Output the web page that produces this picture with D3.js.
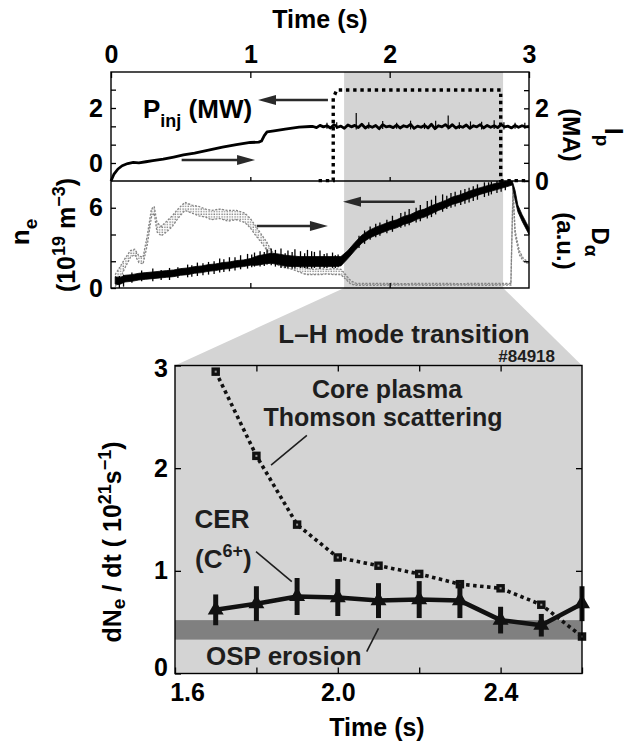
<!DOCTYPE html>
<html><head><meta charset="utf-8">
<script src="https://cdn.jsdelivr.net/npm/d3@7"></script>
<style>
body{margin:0;background:#fff;}
svg text{font-family:"Liberation Sans",Arial,Helvetica,sans-serif;font-weight:bold;}
</style></head><body>
<svg id="c" width="628" height="748"></svg>
<script>
// ---------------- DATA ----------------
// upper figure: time axis
const topTimeTicks = [0, 1, 2, 3];
const ipTickValues = [0, 0.5, 1, 1.5, 2, 2.5];
const ipTickLabels = ["0", "", "", "", "2", ""];
const pinjTickValues = [0, 0.667, 1.333, 2, 2.667];
const pinjTickLabels = ["0", "", "", "2", ""];
const neTickValues = [0, 2, 4, 6];
const neTickLabels = ["0", "", "", "6"];

// L-H transition window (s)
const lhWindow = [1.673, 2.814];

// Plasma current Ip (MA): ramp-up part
const ipRampTime = [0, 0.02, 0.05, 0.08, 0.12, 0.16, 0.2, 0.25, 0.3, 0.375, 0.45, 0.52, 0.6, 0.7, 0.8, 0.9, 1.0, 1.06, 1.08, 1.1, 1.12, 1.17, 1.25, 1.35, 1.43];
const ipRampValue = [0, 0.18, 0.33, 0.42, 0.48, 0.51, 0.5, 0.53, 0.56, 0.6, 0.66, 0.72, 0.77, 0.85, 0.93, 1.0, 1.06, 1.07, 1.1, 1.25, 1.35, 1.38, 1.43, 1.48, 1.5];
// Ip flat-top (noisy), sampled every 0.025 s from 1.45 s
const ipFlatStart = 1.45, ipFlatStep = 0.025;
const ipFlatValue = [1.50,1.47,1.53,1.49,1.52,1.46,1.55,1.48,1.51,1.45,1.54,1.49,1.53,1.47,1.56,1.46,1.52,1.48,1.53,1.44,1.55,1.49,1.51,1.47,1.54,1.46,1.52,1.49,1.56,1.45,1.51,1.48,1.53,1.46,1.56,1.44,1.52,1.49,1.55,1.47,1.55,1.46,1.51,1.48,1.54,1.45,1.52,1.49,1.55,1.46,1.53,1.48,1.52,1.47,1.55,1.49,1.51,1.46,1.53,1.48,1.52,1.49,1.5];
// Ip noise spikes (time, min, max)
const ipSpikeTime = [1.55, 1.62, 1.76, 1.85, 1.95, 2.05, 2.15, 2.25, 2.33, 2.42, 2.5, 2.58, 2.66, 2.75, 2.82, 2.9, 2.97];
const ipSpikeLow  = [1.44, 1.43, 1.42, 1.44, 1.43, 1.44, 1.42, 1.43, 1.44, 1.42, 1.43, 1.44, 1.42, 1.43, 1.42, 1.44, 1.44];
const ipSpikeHigh = [1.6, 1.62, 1.87, 1.62, 1.65, 1.6, 1.66, 1.6, 1.66, 1.8, 1.62, 1.64, 1.63, 1.67, 1.62, 1.6, 1.6];

// Injected power waveform (MW)
const pinjTime = [1.49, 1.595, 1.595, 1.62, 2.797, 2.797, 3.0];
const pinjValue = [-0.64, -0.64, 2.36, 2.655, 2.655, -0.64, -0.64];

// Electron density ne (1e19 m^-3): noisy band (lower / upper envelope)
const neTime = [0.03,0.05,0.07,0.1,0.15,0.2,0.25,0.3,0.35,0.4,0.45,0.5,0.55,0.6,0.65,0.7,0.75,0.8,0.85,0.9,0.95,1.0,1.05,1.1,1.15,1.2,1.25,1.3,1.35,1.4,1.45,1.5,1.55,1.6,1.65,1.7,1.75,1.8,1.85,1.9,1.95,2.0,2.05,2.1,2.15,2.2,2.25,2.3,2.35,2.4,2.45,2.5,2.55,2.6,2.65,2.7,2.75,2.8,2.85,2.88,2.9,2.92,2.95,2.98,3.0];
const neLow = [0.3,0.25,0.3,0.45,0.5,0.6,0.65,0.7,0.75,0.8,0.85,0.95,1.0,1.1,1.15,1.25,1.3,1.4,1.45,1.55,1.6,1.7,1.7,1.8,1.85,1.75,1.65,1.6,1.6,1.6,1.6,1.6,1.6,1.6,1.65,2.2,2.8,3.35,3.7,3.95,4.15,4.35,4.5,4.75,4.9,5.15,5.3,5.55,5.8,6.0,6.25,6.4,6.6,6.8,7.0,7.15,7.3,7.45,7.6,7.7,6.6,5.7,5.0,4.4,4.0];
const neHigh = [0.85,0.8,0.8,0.95,1.0,1.1,1.15,1.2,1.25,1.3,1.35,1.45,1.5,1.6,1.65,1.75,1.8,1.9,1.95,2.05,2.1,2.2,2.4,2.5,2.6,2.55,2.45,2.4,2.35,2.35,2.35,2.35,2.35,2.35,2.35,2.8,3.4,3.95,4.3,4.55,4.75,4.95,5.1,5.35,5.5,5.75,5.9,6.15,6.35,6.55,6.8,6.95,7.15,7.35,7.5,7.65,7.8,7.9,8.0,8.0,7.3,6.2,5.5,4.9,4.5];
// ne noise spikes (time, min, max)
const neSpikeTime = [0.06,0.09,0.15,0.22,0.3,0.36,0.42,0.48,0.55,0.58,0.62,0.66,0.7,0.74,0.78,0.81,0.85,0.89,0.93,0.98,1.01,1.03,1.07,1.1,1.12,1.15,1.18,1.22,1.25,1.27,1.3,1.32,1.36,1.39,1.41,1.44,1.46,1.5,1.53,1.55,1.59,1.61,1.63,1.78,1.82,1.86,1.9,1.93,1.98,2.02,2.08,2.11,2.14,2.19,2.22,2.27,2.3,2.33,2.38,2.41,2.44,2.47,2.51,2.54,2.57,2.6,2.63,2.68,2.71,2.73,2.77,2.8,2.83];
const neSpikeLow  = [0.0,0.1,0.4,0.5,0.5,0.6,0.6,0.75,0.8,0.85,0.9,0.95,1.0,1.05,1.15,1.2,1.25,1.3,1.4,1.45,1.55,1.6,1.6,1.65,1.75,1.7,1.6,1.5,1.5,1.5,1.45,1.45,1.5,1.5,1.45,1.45,1.5,1.45,1.5,1.5,1.5,1.5,1.55,3.0,3.3,3.6,3.8,3.9,4.1,4.2,4.5,4.6,4.7,4.9,5.0,5.2,5.3,5.5,5.7,5.9,6.0,6.1,6.2,6.3,6.4,6.5,6.6,6.8,6.9,7.0,7.1,7.2,7.3];
const neSpikeHigh = [0.9,1.0,1.15,1.3,1.45,1.35,1.5,1.55,1.75,1.7,1.9,1.85,1.95,2.0,2.2,2.15,2.3,2.3,2.45,2.55,2.5,2.65,2.75,2.7,2.9,2.95,2.85,2.95,2.6,2.8,2.7,2.9,2.75,2.6,2.85,2.75,2.7,2.8,2.55,2.6,2.65,2.45,2.5,3.9,4.3,4.6,4.8,4.9,5.1,5.4,5.6,5.7,5.9,6.0,6.2,6.5,6.6,6.9,7.0,6.9,7.1,7.2,7.3,7.4,7.5,7.6,7.75,7.9,7.9,7.95,8.0,8.0,8.0];

// D-alpha (a.u., drawn on the ne scale): scattered band (lower / upper)
const daTime = [0.03,0.06,0.1,0.14,0.17,0.2,0.23,0.26,0.29,0.31,0.33,0.36,0.4,0.44,0.48,0.53,0.58,0.63,0.68,0.72,0.78,0.84,0.9,0.96,1.0,1.04,1.08,1.12,1.15,1.2,1.25,1.3,1.35,1.4,1.45,1.5,1.55,1.6,1.65,1.68,1.72,1.76,1.9,2.1,2.3,2.5,2.7,2.87,2.885,2.9,2.93,2.96,3.0];
const daLow = [0.1,0.6,1.5,2.3,2.5,1.9,1.8,3.2,5.3,5.6,4.2,3.9,4.2,4.6,5.2,5.8,5.6,5.4,5.3,5.1,5.2,5.0,5.1,4.9,4.5,3.9,3.4,2.8,2.2,1.7,1.5,1.4,1.2,1.0,1.0,1.0,1.05,1.0,1.0,0.7,0.3,0.2,0.2,0.22,0.2,0.22,0.2,0.22,7.3,4.0,2.5,2.0,1.8];
const daHigh = [1.0,1.5,2.2,2.8,2.9,2.4,2.3,3.9,5.9,6.1,4.9,4.6,5.0,5.4,5.9,6.4,6.2,6.1,5.9,5.8,5.9,5.8,5.8,5.6,5.2,4.6,4.0,3.4,2.8,2.2,1.9,1.8,1.6,1.5,1.4,1.45,1.4,1.45,1.4,1.05,0.55,0.35,0.35,0.33,0.35,0.33,0.35,0.35,7.5,4.3,2.8,2.2,1.9];

// lower figure: dNe/dt (1e21 s^-1)
const bTime = [1.7, 1.8, 1.9, 2.0, 2.1, 2.2, 2.3, 2.4, 2.5, 2.6];
const thomson = [2.94, 2.12, 1.45, 1.13, 1.05, 0.97, 0.87, 0.83, 0.67, 0.36];
const cer = [0.62, 0.68, 0.75, 0.74, 0.71, 0.72, 0.71, 0.52, 0.47, 0.68];
const cerErr = [0.15, 0.17, 0.18, 0.18, 0.17, 0.18, 0.17, 0.13, 0.11, 0.17];
const ospErosion = [0.33, 0.52];
const bXTickValues = [1.6, 1.8, 2.0, 2.2, 2.4, 2.6];
const bXTickLabels = ["1.6", "", "2.0", "", "2.4", ""];
const bYTickValues = [0, 1, 2, 3];
const bYTickLabels = ["0", "1", "2", "3"];

// ---------------- SCALES ----------------
const svg = d3.select("#c");
const tX = d3.scaleLinear().domain([0, 3]).range([111, 529]);
const ipY = d3.scaleLinear().domain([0, 3]).range([181, 72]);
const pinjY = d3.scaleLinear().domain([0, 2]).range([163, 108]);
const neY = d3.scaleLinear().domain([0, 8]).range([288, 181]);
const bX = d3.scaleLinear().domain([1.6, 2.6]).range([175, 582]);
const bY = d3.scaleLinear().domain([0, 3]).range([673.5, 365.5]);

const FS = "25px";
function styleAxis(g, fs) {
  g.select(".domain").remove();
  g.selectAll(".tick line").attr("stroke", "#000").attr("stroke-width", 1.3);
  g.selectAll(".tick text").attr("fill", "#000").style("font-size", fs || FS).style("font-weight", "bold");
}

// dotted pattern for D-alpha scatter
const defs = svg.append("defs");
const pat = defs.append("pattern").attr("id", "dots").attr("patternUnits", "userSpaceOnUse").attr("width", 2.6).attr("height", 2.6);
pat.append("rect").attr("x", 0.4).attr("y", 0.4).attr("width", 1.3).attr("height", 1.3).attr("fill", "#7c7c7c");

// ---------------- UPPER FIGURE ----------------
// shaded L-H window + funnel
svg.append("rect").attr("x", tX(lhWindow[0])).attr("y", ipY(3))
  .attr("width", tX(lhWindow[1]) - tX(lhWindow[0])).attr("height", neY(0) - ipY(3)).attr("fill", "#d4d4d4");
svg.append("path").attr("fill", "#d4d4d4")
  .attr("d", d3.line()([[tX(lhWindow[0]), neY(0)], [tX(lhWindow[1]), neY(0)], [bX(2.6), bY(3)], [bX(1.6), bY(3)]]) + "Z");

// D-alpha band
svg.append("path")
  .attr("d", d3.area().x((d, i) => tX(daTime[i])).y0((d, i) => neY(daLow[i])).y1(d => neY(d))(daHigh))
  .attr("fill", "url(#dots)");
const daLine = d3.line().x((d, i) => tX(daTime[i])).y(d => neY(d));
[daLow, daHigh].forEach(arr => {
  svg.append("path").attr("d", daLine(arr)).attr("fill", "none").attr("stroke", "#858585")
    .attr("stroke-width", 1.3).attr("stroke-dasharray", "2,1.5");
});

// ne band + spikes
svg.append("path")
  .attr("d", d3.area().x(d => tX(d)).y0((d, i) => neY(neLow[i])).y1((d, i) => neY(neHigh[i]))(neTime))
  .attr("fill", "#000").attr("stroke", "#000").attr("stroke-width", 0.8);
svg.selectAll(".nesp").data(neSpikeTime).enter().append("line")
  .attr("x1", d => tX(d)).attr("x2", d => tX(d))
  .attr("y1", (d, i) => neY(neSpikeLow[i])).attr("y2", (d, i) => neY(neSpikeHigh[i]))
  .attr("stroke", "#000").attr("stroke-width", 1.3);

// Ip trace + spikes
const ipPts = ipRampTime.map((t, i) => [t, ipRampValue[i]])
  .concat(ipFlatValue.map((v, i) => [ipFlatStart + i * ipFlatStep, v]));
svg.append("path").attr("d", d3.line().x(d => tX(d[0])).y(d => ipY(d[1]))(ipPts))
  .attr("fill", "none").attr("stroke", "#000").attr("stroke-width", 2.8).attr("stroke-linejoin", "round");
svg.selectAll(".ipsp").data(ipSpikeTime).enter().append("line")
  .attr("x1", d => tX(d)).attr("x2", d => tX(d))
  .attr("y1", (d, i) => ipY(ipSpikeLow[i])).attr("y2", (d, i) => ipY(ipSpikeHigh[i]))
  .attr("stroke", "#000").attr("stroke-width", 1.2);

// Pinj dotted waveform
svg.append("path").attr("d", d3.line().x((d, i) => tX(pinjTime[i])).y(d => pinjY(d))(pinjValue))
  .attr("fill", "none").attr("stroke", "#000").attr("stroke-width", 3.4).attr("stroke-dasharray", "3.4,3.8");

// frames
svg.append("rect").attr("x", tX(0)).attr("y", ipY(3)).attr("width", tX(3) - tX(0)).attr("height", neY(0) - ipY(3))
  .attr("fill", "none").attr("stroke", "#000").attr("stroke-width", 1.4);
svg.append("line").attr("x1", tX(0)).attr("x2", tX(3)).attr("y1", ipY(0)).attr("y2", ipY(0))
  .attr("stroke", "#000").attr("stroke-width", 1.6);

// axes
svg.append("g").attr("transform", `translate(0,${ipY(3)})`)
  .call(d3.axisTop(tX).tickValues(topTimeTicks).tickFormat(d3.format("d")).tickSize(-6).tickPadding(9)).call(g => styleAxis(g));
svg.append("g").attr("transform", `translate(${tX(0)},0)`)
  .call(d3.axisLeft(pinjY).tickValues(pinjTickValues).tickFormat((d, i) => pinjTickLabels[i]).tickSize(-5).tickPadding(8)).call(g => styleAxis(g));
svg.append("g").attr("transform", `translate(${tX(3)},0)`)
  .call(d3.axisRight(ipY).tickValues(ipTickValues).tickFormat((d, i) => ipTickLabels[i]).tickSize(-5).tickPadding(6)).call(g => styleAxis(g));
svg.append("g").attr("transform", `translate(0,${ipY(0)})`)
  .call(d3.axisTop(tX).tickValues([1, 2]).tickFormat("").tickSize(4)).call(g => styleAxis(g));
svg.append("g").attr("transform", `translate(0,${neY(0)})`)
  .call(d3.axisBottom(tX).tickValues([1, 2]).tickFormat("").tickSize(-5)).call(g => styleAxis(g));
svg.append("g").attr("transform", `translate(${tX(0)},0)`)
  .call(d3.axisLeft(neY).tickValues(neTickValues).tickFormat((d, i) => neTickLabels[i]).tickSize(-5).tickPadding(8)).call(g => styleAxis(g));
svg.append("g").attr("transform", `translate(${tX(3)},0)`)
  .call(d3.axisRight(neY).tickValues([2, 4, 6]).tickFormat("").tickSize(-5)).call(g => styleAxis(g));

// arrows (data coordinates)
function arrow(x1, y1, x2, y2) {
  const dir = Math.sign(x2 - x1);
  svg.append("line").attr("x1", x1).attr("y1", y1).attr("x2", x2 - dir * 10).attr("y2", y2)
    .attr("stroke", "#2a2a2a").attr("stroke-width", 2.4);
  svg.append("path").attr("d", `M${x2},${y2} L${x2 - dir * 18},${y2 - 5} L${x2 - dir * 18},${y2 + 5} Z`).attr("fill", "#2a2a2a");
}
arrow(tX(1.557), ipY(2.23), tX(1.055), ipY(2.23));
arrow(tX(0.507), ipY(0.578), tX(1.034), ipY(0.578));
arrow(tX(1.046), neY(4.64), tX(1.557), neY(4.64));
arrow(tX(2.18), neY(6.45), tX(1.665), neY(6.45));

// texts upper
svg.append("text").attr("x", 320).attr("y", 28).attr("text-anchor", "middle").style("font-size", "25px").text("Time (s)");
const pinjLab = svg.append("text").attr("x", 143).attr("y", 118).style("font-size", "26px");
pinjLab.append("tspan").text("P");
pinjLab.append("tspan").attr("dy", 9).style("font-size", "18px").text("inj");
pinjLab.append("tspan").attr("dy", -9).text(" (MW)");

// rotated labels
function rot(x, y, a) { return svg.append("g").attr("transform", `translate(${x},${y}) rotate(${a})`); }
let t1 = rot(29, 232, -90).append("text").attr("text-anchor", "middle").style("font-size", "26px");
t1.append("tspan").text("n");
t1.append("tspan").attr("dy", 8).style("font-size", "19px").text("e");
let t2 = rot(75, 235, -90).append("text").attr("text-anchor", "middle").style("font-size", "25px");
t2.append("tspan").text("(10");
t2.append("tspan").attr("dy", -10).style("font-size", "18px").text("19");
t2.append("tspan").attr("dy", 10).text(" m");
t2.append("tspan").attr("dy", -10).style("font-size", "18px").text("−3");
t2.append("tspan").attr("dy", 10).text(")");

let t3 = rot(605, 137, 90).append("text").attr("text-anchor", "middle").style("font-size", "25px");
t3.append("tspan").text("I");
t3.append("tspan").attr("dy", 9).style("font-size", "19px").text("p");
rot(563, 135, 90).append("text").attr("text-anchor", "middle").style("font-size", "24px").text("(MA)");
let t4 = rot(592, 242, 90).append("text").attr("text-anchor", "middle").style("font-size", "24px");
t4.append("tspan").text("D");
t4.append("tspan").attr("dy", 7).style("font-size", "19px").text("α");
rot(557, 241, 90).append("text").attr("text-anchor", "middle").style("font-size", "24px").text("(a.u.)");

// ---------------- LOWER FIGURE ----------------
svg.append("rect").attr("x", bX(1.6)).attr("y", bY(3)).attr("width", bX(2.6) - bX(1.6)).attr("height", bY(0) - bY(3)).attr("fill", "#d4d4d4");
svg.append("rect").attr("x", bX(1.6)).attr("y", bY(ospErosion[1])).attr("width", bX(2.6) - bX(1.6))
  .attr("height", bY(ospErosion[0]) - bY(ospErosion[1])).attr("fill", "#808080");

// Thomson
svg.append("path").attr("d", d3.line().x((d, i) => bX(bTime[i])).y(d => bY(d))(thomson))
  .attr("fill", "none").attr("stroke", "#111").attr("stroke-width", 3.6).attr("stroke-dasharray", "3.5,3.5");
svg.selectAll(".sq").data(thomson).enter().append("path")
  .attr("transform", (d, i) => `translate(${bX(bTime[i])},${bY(d)})`)
  .attr("d", d3.symbol(d3.symbolSquare, 72)).attr("fill", "#111");
svg.selectAll(".sqc").data(thomson).enter().append("rect")
  .attr("x", (d, i) => bX(bTime[i]) - 1).attr("y", d => bY(d) - 1).attr("width", 2).attr("height", 2).attr("fill", "#999");

// CER
svg.append("path").attr("d", d3.line().x((d, i) => bX(bTime[i])).y(d => bY(d))(cer))
  .attr("fill", "none").attr("stroke", "#111").attr("stroke-width", 4.5).attr("stroke-linejoin", "round");
svg.selectAll(".eb").data(cer).enter().append("line")
  .attr("x1", (d, i) => bX(bTime[i])).attr("x2", (d, i) => bX(bTime[i]))
  .attr("y1", (d, i) => bY(d - cerErr[i])).attr("y2", (d, i) => bY(d + cerErr[i]))
  .attr("stroke", "#111").attr("stroke-width", 5);
svg.selectAll(".tri").data(cer).enter().append("path")
  .attr("transform", (d, i) => `translate(${bX(bTime[i])},${bY(d)})`)
  .attr("d", d3.symbol(d3.symbolTriangle, 110)).attr("fill", "#111");

// frame
svg.append("rect").attr("x", bX(1.6)).attr("y", bY(3)).attr("width", bX(2.6) - bX(1.6)).attr("height", bY(0) - bY(3))
  .attr("fill", "none").attr("stroke", "#000").attr("stroke-width", 1.4);

// axes
svg.append("g").attr("transform", `translate(0,${bY(0)})`)
  .call(d3.axisBottom(bX).tickValues(bXTickValues).tickFormat((d, i) => bXTickLabels[i]).tickSize(-6).tickPadding(10))
  .call(g => styleAxis(g))
  .call(g => g.selectAll(".tick text").filter((d) => d === 1.6).attr("dx", 12));
svg.append("g").attr("transform", `translate(0,${bY(3)})`)
  .call(d3.axisTop(bX).tickValues([1.8, 2.0, 2.2, 2.4]).tickFormat("").tickSize(-6)).call(g => styleAxis(g));
svg.append("g").attr("transform", `translate(${bX(1.6)},0)`)
  .call(d3.axisLeft(bY).tickValues(bYTickValues).tickFormat((d, i) => bYTickLabels[i]).tickSize(-6).tickPadding(7))
  .call(g => styleAxis(g))
  .call(g => { g.selectAll(".tick text").filter(d => d === 0).attr("y", -6); g.selectAll(".tick text").filter(d => d === 3).attr("y", 3); });
svg.append("g").attr("transform", `translate(${bX(2.6)},0)`)
  .call(d3.axisRight(bY).tickValues([1, 2]).tickFormat("").tickSize(-6)).call(g => styleAxis(g));

// texts lower
const dark = "#1e1e1e";
function lab(x, y, s, size, anchor) {
  return svg.append("text").attr("x", x).attr("y", y).attr("text-anchor", anchor || "middle")
    .style("font-size", size).attr("fill", dark).text(s);
}
lab(404, 343, "L–H mode transition", "26px");
lab(555, 361.5, "#84918", "17px", "end");
lab(387, 397.5, "Core plasma", "25px");
lab(383, 425.5, "Thomson scattering", "25px");
lab(222, 528, "CER", "26px");
const c6 = svg.append("text").attr("x", 195).attr("y", 568).style("font-size", "26px").attr("fill", dark);
c6.append("tspan").text("(C");
c6.append("tspan").attr("dy", -11).style("font-size", "18px").text("6+");
c6.append("tspan").attr("dy", 11).text(")");
lab(206, 665, "OSP erosion", "26px", "start");
svg.append("text").attr("x", 377).attr("y", 736).attr("text-anchor", "middle").style("font-size", "25px").text("Time (s)");

const yl = rot(121, 542, -90).append("text").attr("text-anchor", "middle").style("font-size", "25px");
yl.append("tspan").text("dN");
yl.append("tspan").attr("dy", 4).style("font-size", "19px").text("e");
yl.append("tspan").attr("dy", -4).text(" / dt ( 10");
yl.append("tspan").attr("dy", -10).style("font-size", "18px").text("21");
yl.append("tspan").attr("dy", 10).text("s");
yl.append("tspan").attr("dy", -10).style("font-size", "18px").text("−1");
yl.append("tspan").attr("dy", 10).text(")");

// leader lines (data coordinates)
function leader(a, b, c, d) {
  svg.append("line").attr("x1", bX(a)).attr("y1", bY(b)).attr("x2", bX(c)).attr("y2", bY(d))
    .attr("stroke", dark).attr("stroke-width", 1.6);
}
leader(1.836, 2.03, 1.924, 2.32);
leader(1.799, 1.186, 1.887, 0.894);
leader(2.071, 0.212, 2.1, 0.44);
</script>
</body></html>
